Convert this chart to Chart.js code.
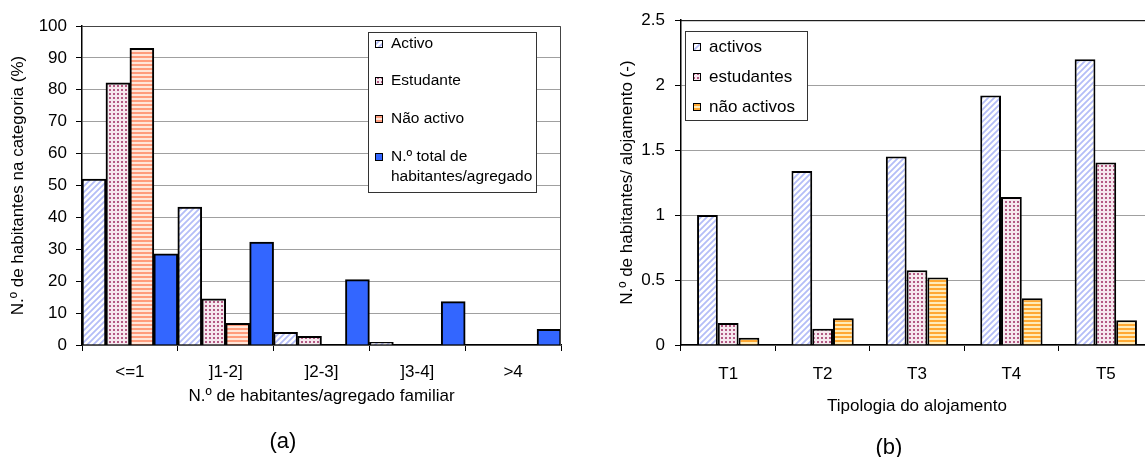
<!DOCTYPE html>
<html>
<head>
<meta charset="utf-8">
<script src="https://cdn.jsdelivr.net/npm/chart.js@4.4.0/dist/chart.umd.min.js"></script>
<style>
    html, body { margin: 0; padding: 0; background: #fff; overflow: hidden; width: 1145px; height: 457px; }
    canvas { position: absolute; top: 0; }
    #chartA { left: 0; }
    #chartB { left: 600px; }
    .tag { position: absolute; width: 60px; text-align: center; line-height: 24px; font: 22px "Liberation Sans", Arial, sans-serif; color: #000; }
</style>
</head>
<body>
<canvas id="chartA" width="580" height="457"></canvas>
<canvas id="chartB" width="560" height="457"></canvas>
<div class="tag" style="left:253px; top:428px;">(a)</div>
<div class="tag" style="left:859px; top:434px;">(b)</div>
<script>
// (a) habitantes por categoria (%)
var categoriasA = ['<=1', ']1-2]', ']2-3]', ']3-4]', '>4'];
var activoA = [52, 43.2, 4, 0.8, 0];
var estudanteA = [82.2, 14.5, 2.7, 0, 0];
var naoActivoA = [93, 6.8, 0, 0, 0];
var totalAgregadoA = [28.6, 32.3, 20.5, 13.6, 4.9];
var ticksA = [0, 10, 20, 30, 40, 50, 60, 70, 80, 90, 100];

// (b) habitantes por alojamento
var tipologiasB = ['T1', 'T2', 'T3', 'T4', 'T5'];
var activosB = [1.0, 1.34, 1.45, 1.92, 2.2];
var estudantesB = [0.17, 0.125, 0.575, 1.14, 1.405];
var naoActivosB = [0.055, 0.205, 0.52, 0.36, 0.19];
var ticksB = [0, 0.5, 1, 1.5, 2, 2.5];

var fontFamily = '"Liberation Sans", Arial, sans-serif';
Chart.defaults.font.family = fontFamily;
Chart.defaults.color = '#000';
Chart.defaults.animation = false;

function makePattern(size, draw) {
    var c = document.createElement('canvas');
    c.width = size; c.height = size;
    var g = c.getContext('2d');
    draw(g, size);
    return g.createPattern(c, 'repeat');
}

// diagonal hatch (activos)
var hatchBlue = makePattern(6, function (g, s) {
    g.fillStyle = '#fff';
    g.fillRect(0, 0, s, s);
    g.strokeStyle = '#b4bdf7';
    g.lineWidth = 1.8;
    g.beginPath();
    g.moveTo(-s, s); g.lineTo(s, -s);
    g.moveTo(0, 2 * s); g.lineTo(2 * s, 0);
    g.moveTo(0, s); g.lineTo(s, 0);
    g.stroke();
});

// dots (estudantes)
var dotsPink = makePattern(4, function (g, s) {
    g.fillStyle = '#f6e8ee';
    g.fillRect(0, 0, s, s);
    g.fillStyle = '#b45a84';
    g.fillRect(1, 1, 2, 2);
});

// horizontal stripes (nao activos)
function stripes(dark, light) {
    return makePattern(4, function (g, s) {
        g.fillStyle = light;
        g.fillRect(0, 0, s, s);
        g.fillStyle = dark;
        g.fillRect(0, 0, s, 2);
    });
}
var stripesSalmon = stripes('#ff9c7c', '#ffe6d9');
var stripesOrange = stripes('#ffa933', '#ffebb8');

// legend box + top/right frame
function makeBoxLegend(cfg) {
    return {
        id: 'boxLegend',
        afterDraw: function (chart) {
            var ctx = chart.ctx;
            var a = chart.chartArea;
            ctx.save();
            ctx.strokeStyle = cfg.frameColor;
            ctx.lineWidth = 1;
            ctx.beginPath();
            ctx.moveTo(a.left, a.top + 0.5);
            ctx.lineTo(a.right - 0.5, a.top + 0.5);
            ctx.lineTo(a.right - 0.5, a.bottom);
            ctx.stroke();

            ctx.fillStyle = '#fff';
            ctx.fillRect(cfg.x, cfg.y, cfg.w, cfg.h);
            ctx.strokeStyle = '#333';
            ctx.strokeRect(cfg.x + 0.5, cfg.y + 0.5, cfg.w, cfg.h);
            ctx.font = cfg.fontSize + 'px ' + fontFamily;
            ctx.textBaseline = 'middle';
            chart.data.datasets.forEach(function (ds, i) {
                var y = cfg.rowY[i];
                ctx.fillStyle = ds.backgroundColor;
                ctx.fillRect(cfg.swatchX, y - 4, 8, 8);
                ctx.strokeStyle = '#000';
                ctx.strokeRect(cfg.swatchX + 0.5, y - 3.5, 7, 7);
                ctx.fillStyle = '#000';
                [].concat(ds.label).forEach(function (t, k) {
                    ctx.fillText(t, cfg.textX, y + k * cfg.lineGap);
                });
            });
            ctx.restore();
        }
    };
}

function barSet(label, data, fill, catPct) {
    return {
        label: label,
        data: data,
        backgroundColor: fill,
        borderColor: '#000',
        borderWidth: 2,
        barPercentage: 1,
        categoryPercentage: catPct
    };
}

function axes(o) {
    return {
        x: {
            grid: { drawOnChartArea: false, offset: true, tickLength: 6, tickColor: '#000' },
            border: { color: '#000', width: 1.5 },
            ticks: { padding: o.xPad, font: { size: 17 } },
            title: { display: true, text: o.xTitle, font: { size: 17 }, padding: { top: 0, bottom: 8 } },
            afterFit: function (s) { s.height = o.xHeight; }
        },
        y: {
            min: 0,
            max: o.ticks[o.ticks.length - 1],
            afterBuildTicks: function (s) {
                s.ticks = o.ticks.map(function (v) { return { value: v }; });
            },
            grid: { color: '#a0a0a0', tickLength: 6, tickColor: '#000' },
            border: { color: '#000', width: 1.5 },
            ticks: {
                padding: o.yPad,
                font: { size: 17 },
                callback: function (v) { return String(v); }
            },
            title: { display: true, text: o.yTitle, font: { size: 17 }, padding: { top: o.yTitlePad, bottom: 0 } },
            afterFit: function (s) { s.width = o.yWidth; }
        }
    };
}

new Chart(document.getElementById('chartA'), {
    type: 'bar',
    data: {
        labels: categoriasA,
        datasets: [
            barSet('Activo', activoA, hatchBlue, 1),
            barSet('Estudante', estudanteA, dotsPink, 1),
            barSet('Não activo', naoActivoA, stripesSalmon, 1),
            barSet(['N.º total de', 'habitantes/agregado'], totalAgregadoA, '#3366ff', 1)
        ]
    },
    options: {
        responsive: false,
        layout: { padding: { left: 0, top: 26, right: 19, bottom: 42 } },
        plugins: { legend: { display: false }, tooltip: { enabled: false } },
        scales: axes({
            ticks: ticksA, xTitle: 'N.º de habitantes/agregado familiar',
            yTitle: 'N.º de habitantes na categoria (%)',
            xPad: 11, xHeight: 70, yPad: 9, yWidth: 82, yTitlePad: 8
        })
    },
    plugins: [makeBoxLegend({
        frameColor: '#444', x: 368, y: 32, w: 168, h: 160, fontSize: 15.5,
        swatchX: 375, textX: 391, rowY: [44, 81, 119, 157], lineGap: 20
    })]
});

new Chart(document.getElementById('chartB'), {
    type: 'bar',
    data: {
        labels: tipologiasB,
        datasets: [
            barSet('activos', activosB, hatchBlue, 0.66),
            barSet('estudantes', estudantesB, dotsPink, 0.66),
            barSet('não activos', naoActivosB, stripesOrange, 0.66)
        ]
    },
    options: {
        responsive: false,
        layout: { padding: { left: 0, top: 20, right: 7, bottom: 32 } },
        plugins: { legend: { display: false }, tooltip: { enabled: false } },
        scales: axes({
            ticks: ticksB, xTitle: 'Tipologia do alojamento',
            yTitle: 'N.º de habitantes/ alojamento (-)',
            xPad: 13, xHeight: 80, yPad: 10, yWidth: 81, yTitlePad: 17
        })
    },
    plugins: [makeBoxLegend({
        frameColor: '#000', x: 85, y: 31, w: 122, h: 89, fontSize: 17,
        swatchX: 93, textX: 109, rowY: [47, 77, 107], lineGap: 20
    })]
});
</script>
</body>
</html>
